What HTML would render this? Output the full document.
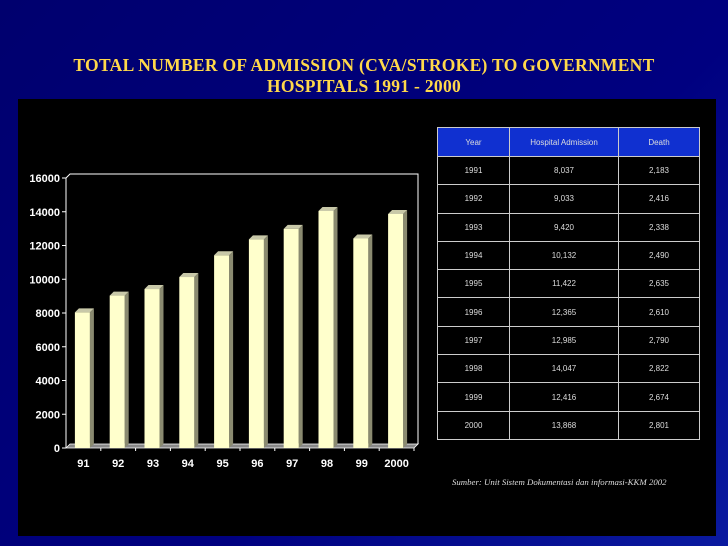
<!DOCTYPE html>
<html><head><meta charset="utf-8"><style>
body{margin:0;width:728px;height:546px;overflow:hidden;background:linear-gradient(135deg,#00006e 0%,#000080 60%,#0a1aa0 100%);font-family:"Liberation Sans",sans-serif;position:relative}
#title{position:absolute;left:0;width:728px;top:55px;text-align:center;color:#ffd84a;font-family:"Liberation Serif",serif;font-weight:bold;font-size:17.5px;line-height:21px;letter-spacing:0.3px}
#panel{position:absolute;left:18px;top:99px;width:698px;height:437px;background:#000}
table{position:absolute;left:437px;top:127px;border-collapse:collapse;font-size:8px;color:#ddd}
td,th{border:1.5px solid #ccc;height:27.3px;padding:0;text-align:center;font-weight:normal}
th{background:#1030d0;color:#ddd;height:28px}
#src{position:absolute;left:452px;top:477px;font-family:"Liberation Serif",serif;font-style:italic;font-size:8.8px;color:#ddd}
</style></head><body>
<div id="title">TOTAL NUMBER OF ADMISSION (CVA/STROKE) TO GOVERNMENT<br>HOSPITALS 1991 - 2000</div>
<div id="panel"></div>
<svg id="chart" width="728" height="546" style="position:absolute;left:0;top:0"></svg>
<table>
<tr><th style="width:71px">Year</th><th style="width:108px">Hospital Admission</th><th style="width:80px">Death</th></tr>
<tr><td>1991</td><td>8,037</td><td>2,183</td></tr>
<tr><td>1992</td><td>9,033</td><td>2,416</td></tr>
<tr><td>1993</td><td>9,420</td><td>2,338</td></tr>
<tr><td>1994</td><td>10,132</td><td>2,490</td></tr>
<tr><td>1995</td><td>11,422</td><td>2,635</td></tr>
<tr><td>1996</td><td>12,365</td><td>2,610</td></tr>
<tr><td>1997</td><td>12,985</td><td>2,790</td></tr>
<tr><td>1998</td><td>14,047</td><td>2,822</td></tr>
<tr><td>1999</td><td>12,416</td><td>2,674</td></tr>
<tr><td>2000</td><td>13,868</td><td>2,801</td></tr>
</table>
<div id="src">Sumber: Unit Sistem Dokumentasi dan informasi-KKM 2002</div>
<script>
const categories=["91","92","93","94","95","96","97","98","99","2000"];
const admissions=[8037,9033,9420,10132,11422,12365,12985,14047,12416,13868];
const yTicks=[0,2000,4000,6000,8000,10000,12000,14000,16000];
const svg=document.getElementById('chart');
const NS='http://www.w3.org/2000/svg';
const x0=66,x1=414,yB=448,yT=178,dx=4,dy=4;
const yS=v=>yB-(v/16000)*(yB-yT);
const step=(x1-x0)/categories.length;
const xS=i=>x0+step*i+step/2;
function mk(t,a){const e=document.createElementNS(NS,t);for(const k in a)e.setAttribute(k,a[k]);svg.appendChild(e);return e;}
let w=mk('polyline',{points:`${x0},${yT} ${x0+dx},${yT-dy} ${x1+dx},${yT-dy} ${x1+dx},${yB-dy}`,fill:'none',stroke:'#fff','stroke-width':1});


let ax=mk('line',{x1:x0,y1:yT,x2:x0,y2:yB,stroke:'#fff'});


let fl=mk('polygon',{points:`${x0},${yB} ${x0+dx},${yB-dy} ${x1+dx},${yB-dy} ${x1},${yB}`,fill:'#888',stroke:'#fff','stroke-width':0.8});


yTicks.forEach(v=>{
 const y=yS(v);
 let tk=mk('line',{x1:x0-4,y1:y,x2:x0,y2:y,stroke:'#fff'});
 
 
 let t=mk('text',{x:x0-6,y:y+4,'text-anchor':'end',fill:'#fff','font-size':11,'font-weight':'bold','font-family':'Liberation Sans, sans-serif'});
 t.textContent=v;
 
 
});
categories.forEach((c,i)=>{
 const cx=xS(i),bw=15,l=cx-bw/2-1,y=yS(admissions[i]);
 let g=document.createElementNS(NS,'g');svg.appendChild(g);
 
 
 const p=(t,a)=>{const e=document.createElementNS(NS,t);for(const k in a)e.setAttribute(k,a[k]);g.appendChild(e);};
 p('polygon',{points:`${l+bw},${y} ${l+bw+dx},${y-dy} ${l+bw+dx},${yB-dy} ${l+bw},${yB}`,fill:'#8a8a70'});
 p('polygon',{points:`${l},${y} ${l+dx},${y-dy} ${l+bw+dx},${y-dy} ${l+bw},${y}`,fill:'#c8c8a8'});
 p('rect',{x:l,y:y,width:bw,height:yB-y,fill:'#ffffcc'});
 let tk=mk('line',{x1:x0+step*(i+1),y1:yB,x2:x0+step*(i+1),y2:yB+3,stroke:'#fff'});
 
 
 let t=mk('text',{x:cx,y:yB+19,'text-anchor':'middle',fill:'#fff','font-size':11,'font-weight':'bold','font-family':'Liberation Sans, sans-serif'});
 t.textContent=c;
 
 
});
</script>
</body></html>
